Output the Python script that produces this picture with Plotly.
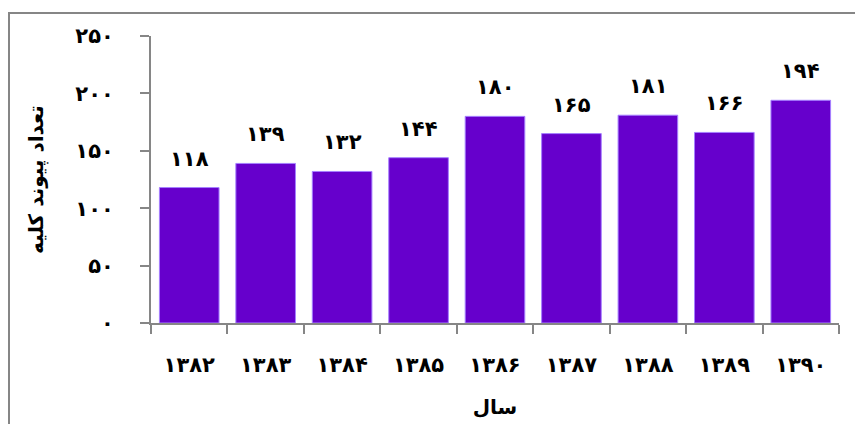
import plotly.graph_objects as go

years = ["۱۳۸۲", "۱۳۸۳", "۱۳۸۴", "۱۳۸۵", "۱۳۸۶", "۱۳۸۷", "۱۳۸۸", "۱۳۸۹", "۱۳۹۰"]
transplants = [118, 139, 132, 144, 180, 165, 181, 166, 194]
y_tick_values = [0, 50, 100, 150, 200, 250]
y_tick_labels = ["۰", "۵۰", "۱۰۰", "۱۵۰", "۲۰۰", "۲۵۰"]
x_title = "سال"
y_title = "تعداد پیوند کلیه"

FA_DIGITS = str.maketrans("0123456789", "۰۱۲۳۴۵۶۷۸۹")
def fa(n):
    return str(n).translate(FA_DIGITS)

FONT = "DejaVu Sans"
AXIS_GREY = "#868686"

fig = go.Figure()
fig.add_trace(go.Bar(
    x=years, y=transplants,
    marker=dict(color="#6600CC", line=dict(color="#A680FF", width=1)),
    hoverinfo="x+y",
))

for yr, v in zip(years, transplants):
    fig.add_annotation(x=yr, y=v, text=fa(v), showarrow=False,
                       yanchor="bottom", yshift=15,
                       font=dict(family=FONT, size=21, color="black", weight="bold"))

fig.update_layout(
    width=855, height=424,
    margin=dict(l=151, r=16, t=36, b=101),
    paper_bgcolor="white", plot_bgcolor="white",
    bargap=0.22,
    showlegend=False,
    font=dict(family=FONT, color="black"),
    xaxis=dict(
        type="category", automargin=False,
        showline=True, linecolor=AXIS_GREY, linewidth=2,
        ticks="outside", tickson="boundaries", ticklen=9, tickcolor=AXIS_GREY, tickwidth=2,
        tickfont=dict(family=FONT, size=21, color="black", weight="bold"),
        ticklabelstandoff=22,
        showgrid=False, zeroline=False,
        title=dict(text="<b>" + x_title + "</b>", font=dict(family=FONT, size=20, color="black"), standoff=24),
    ),
    yaxis=dict(
        range=[0, 250], automargin=False,
        tickvals=y_tick_values, ticktext=y_tick_labels,
        showline=True, linecolor=AXIS_GREY, linewidth=2,
        ticks="outside", ticklen=9, tickcolor=AXIS_GREY, tickwidth=2,
        tickfont=dict(family=FONT, size=21, color="black", weight="bold"),
        ticklabelstandoff=22,
        showgrid=False, zeroline=False,
        title=dict(text="<b>" + y_title + "</b>", font=dict(family=FONT, size=20, color="black"), standoff=26),
    ),
    shapes=[dict(type="rect", xref="paper", yref="paper",
                 x0=-0.2064, x1=1.2, y0=-1.0, y1=1.080,
                 line=dict(color=AXIS_GREY, width=2), fillcolor="rgba(0,0,0,0)", layer="below")],
)

fig.write_html("out.html", config={"displayModeBar": False},
               post_script="document.body.style.margin='0px';")
